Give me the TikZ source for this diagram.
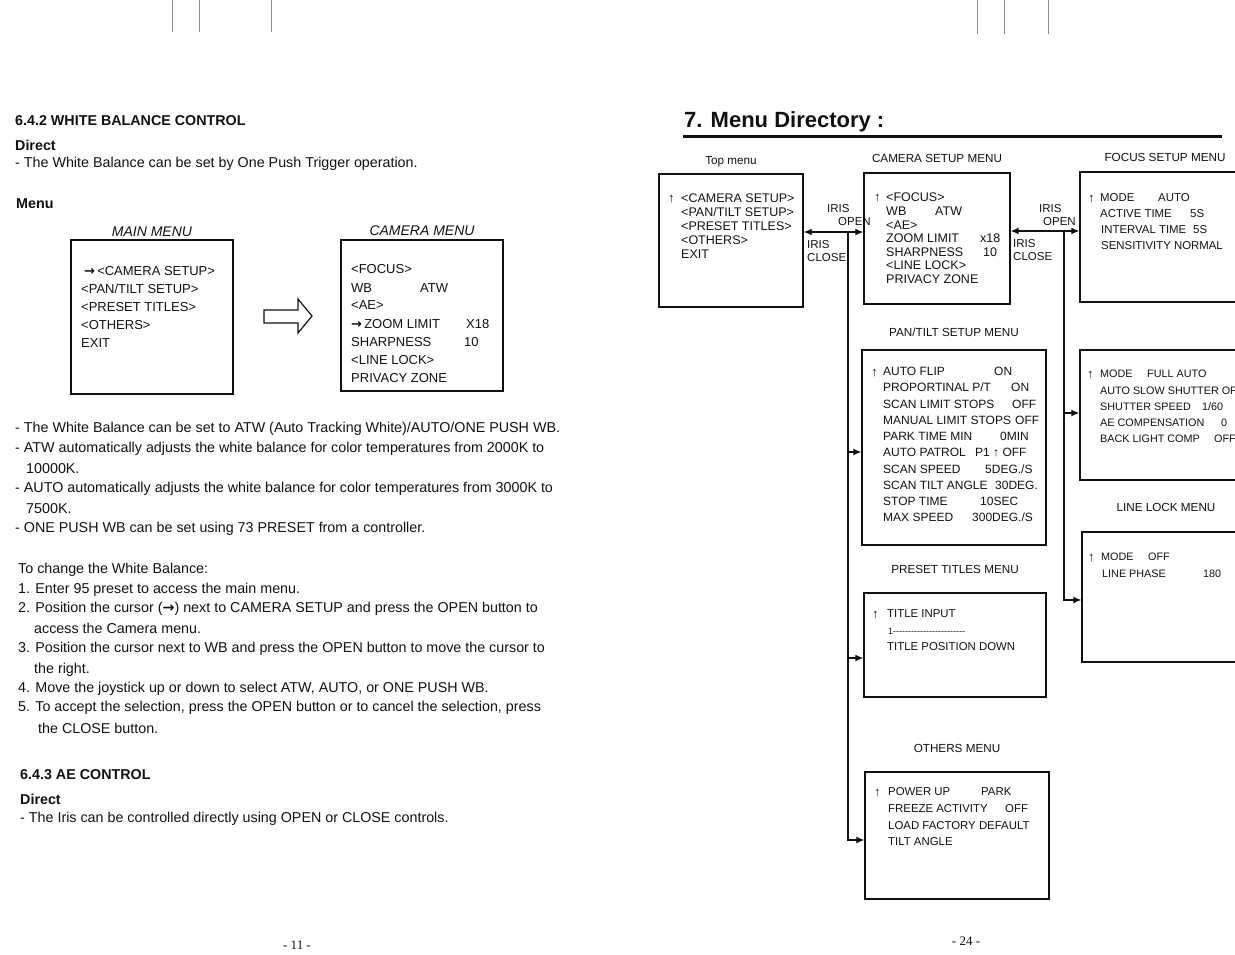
\documentclass[tikz,border=0pt]{standalone}
\usepackage{fontspec}
\setmainfont{Liberation Sans}
\newfontfamily\pagenumfont{Liberation Serif}
\newfontfamily\arrowfont{DejaVu Sans}
\usetikzlibrary{arrows.meta,positioning,fit}
\usepackage{xcolor}
\definecolor{ink}{HTML}{111111}
\definecolor{scan}{HTML}{8A8A8A}
\newcommand{\bodysize}{\fontsize{14.3}{17}\selectfont}
\newcommand{\dashrow}{\foreach \i in {1,...,24}{{-}}}
\newcommand{\cursorarrow}{{\arrowfont\bfseries →}}
\tikzset{
  >={Latex[length=8pt,width=7pt]},
  every node/.style={inner sep=0pt,text=ink},
  body/.style={font=\bodysize,anchor=base west},
  head/.style={font=\bodysize\bfseries,anchor=base west},
  oldbox/.style={draw=ink,line width=1.4pt,inner sep=0pt},
  oldtitle/.style={font=\fontsize{14}{16}\selectfont\itshape,text depth=0pt},
  oldtxt/.style={font=\fontsize{13}{15}\selectfont,anchor=base west},
  menubox/.style={draw=ink,line width=1.4pt,inner sep=0pt},
  menutitle/.style={font=\fontsize{11.7}{14}\selectfont,text depth=0pt},
  item/.style={font=\fontsize{12.5}{14}\selectfont,anchor=base west},
  ptitem/.style={font=\fontsize{12}{14}\selectfont,anchor=base west},
  smallitem/.style={font=\fontsize{11.4}{13}\selectfont,anchor=base west},
  tinyitem/.style={font=\fontsize{10.8}{12}\selectfont,anchor=base west},
  cursor/.style={font=\fontsize{13}{14}\selectfont,anchor=base west},
  iris/.style={font=\fontsize{11.5}{13}\selectfont,align=left,anchor=north west},
  link/.style={<->,line width=1.2pt,draw=ink},
  branch/.style={->,line width=1.2pt,draw=ink},
  scanmark/.style={draw=scan,line width=0.7pt},
  pagenum/.style={font=\pagenumfont\fontsize{13}{15}\selectfont,anchor=base},
}

\begin{document}
\begin{tikzpicture}[x=1pt,y=-1pt]
\useasboundingbox (0,0) rectangle (1235,954);

% scanner marks along the top edge
\foreach \x/\h in {172/32,199/32,271/32,977/34,1004/34,1048/34}
  \draw[scanmark] (\x,0) -- (\x,\h);

% left page: white balance
\node[head] (wbhead) at (15,125) {6.4.2 WHITE BALANCE CONTROL};
\node[head] (wbdirect) at (15,150) {Direct};
\node[body] (wbpush) at (15,167) {- The White Balance can be set by One Push Trigger operation.};
\node[head] (wbmenu) at (16,208) {Menu};

\node[oldbox,fit={(71,240) (233,394)}] (mainmenu) {};
\node[oldtitle,above=3pt of mainmenu] (maintitle) {MAIN MENU};
\node[oldtxt] (mm1) at (84,275) {\cursorarrow\,<CAMERA SETUP>};
\foreach \y/\t in {293/{<PAN/TILT SETUP>},311/{<PRESET TITLES>},329/{<OTHERS>},347/{EXIT}}
  \node[oldtxt] (mm\y) at (81,\y) {\t};

\node[oldbox,fit={(341,240) (503,391)}] (cammenu) {};
\node[oldtitle,above=4pt of cammenu] (camtitle) {CAMERA MENU};
\foreach \y/\t in {273/{<FOCUS>},292/{WB},309/{<AE>},346/{SHARPNESS},364/{<LINE LOCK>},382/{PRIVACY ZONE}}
  \node[oldtxt] (cm\y) at (351,\y) {\t};
\node[oldtxt] (cm328) at (351,328) {\cursorarrow\,ZOOM LIMIT};
\node[oldtxt] (cmatw) at (420,292) {ATW};
\node[oldtxt] (cmx18) at (466,328) {X18};
\node[oldtxt] (cm10) at (464,346) {10};

% hollow arrow between the menus
\draw[line width=1.2pt,draw=ink] (264,310) -- (298,310) -- (298,299) -- (312,316)
  -- (298,333) -- (298,323) -- (264,323) -- cycle;

\foreach \x/\y/\t in {
  15/432/{- The White Balance can be set to ATW (Auto Tracking White)/AUTO/ONE PUSH WB.},
  15/452/{- ATW automatically adjusts the white balance for color temperatures from 2000K to},
  26/473/{10000K.},
  15/492/{- AUTO automatically adjusts the white balance for color temperatures from 3000K to},
  26/513/{7500K.},
  15/532/{- ONE PUSH WB can be set using 73 PRESET from a controller.},
  18/573/{To change the White Balance:},
  18/593/{1. Enter 95 preset to access the main menu.},
  18/612/{2. Position the cursor (\cursorarrow) next to CAMERA SETUP and press the OPEN button to},
  34/633/{access the Camera menu.},
  18/652/{3. Position the cursor next to WB and press the OPEN button to move the cursor to},
  34/673/{the right.},
  18/692/{4. Move the joystick up or down to select ATW, AUTO, or ONE PUSH WB.},
  18/711/{5. To accept the selection, press the OPEN button or to cancel the selection, press},
  38/733/{the CLOSE button.}}
  \node[body] (txt\y) at (\x,\y) {\t};

% left page: AE control
\node[head] (aehead) at (20,779) {6.4.3 AE CONTROL};
\node[head] (aedirect) at (20,804) {Direct};
\node[body] (aeiris) at (20,822) {- The Iris can be controlled directly using OPEN or CLOSE controls.};
\node[pagenum] (pg11) at (297,949) {- 11 -};

% right page: menu directory
\node[font=\fontsize{22}{26}\selectfont\bfseries,anchor=base west] (dirhead) at (684,127) {7. Menu Directory :};
\draw[line width=3pt,draw=ink] (683,136) -- (1222,136);

\node[menubox,fit={(659,174) (803,307)}] (top) {};
\node[menutitle,above=9pt of top] (toptitle) {Top menu};
\node[cursor] (topcur) at (668,202) {↑};
\foreach \y/\t in {202/{<CAMERA SETUP>},216/{<PAN/TILT SETUP>},230/{<PRESET TITLES>},244/{<OTHERS>},258/{EXIT}}
  \node[item] (top\y) at (681,\y) {\t};

\node[menubox,fit={(864,173) (1010,304)}] (camset) {};
\node[menutitle,above=10pt of camset] (camsettitle) {CAMERA SETUP MENU};
\node[cursor] (camcur) at (874,201) {↑};
\foreach \y/\t in {201/{<FOCUS>},215/{WB},229/{<AE>},242/{ZOOM LIMIT},256/{SHARPNESS},269/{<LINE LOCK>},283/{PRIVACY ZONE}}
  \node[item] (cam\y) at (886,\y) {\t};
\node[item] (camatw) at (935,215) {ATW};
\node[item] (camx18) at (980,242) {x18};
\node[item] (cam10) at (983,256) {10};

\node[menubox,fit={(1080,172) (1250,302)}] (focus) {};
\node[menutitle,above=10pt of focus] (focustitle) {FOCUS SETUP MENU};
\node[cursor] (focuscur) at (1088,202) {↑};
\node[smallitem] (foc1) at (1100,201) {MODE};
\node[smallitem] (foc1v) at (1158,201) {AUTO};
\node[smallitem] (foc2) at (1100,217) {ACTIVE TIME};
\node[smallitem] (foc2v) at (1190,217) {5S};
\node[smallitem] (foc3) at (1101,233) {INTERVAL TIME};
\node[smallitem] (foc3v) at (1193,233) {5S};
\node[smallitem] (foc4) at (1101,249) {SENSITIVITY NORMAL};

\node[menubox,fit={(862,350) (1046,545)}] (pantilt) {};
\node[menutitle,above=13pt of pantilt] (pttitle) {PAN/TILT SETUP MENU};
\node[cursor] (ptcur) at (871,376) {↑};
\foreach \y/\a/\x/\b in {375/{AUTO FLIP}/994/{ON},391/{PROPORTINAL P/T}/1011/{ON},
    408/{SCAN LIMIT STOPS}/1012/{OFF},424/{MANUAL LIMIT STOPS}/1015/{OFF},
    440/{PARK TIME MIN}/1000/{0MIN},456/{AUTO PATROL}/975/{P1 {\fontsize{12}{12}\selectfont↑} OFF},
    473/{SCAN SPEED}/985/{5DEG./S},489/{SCAN TILT ANGLE}/995/{30DEG.},
    505/{STOP TIME}/980/{10SEC},521/{MAX SPEED}/972/{300DEG./S}} {
  \node[ptitem] (pt\y) at (883,\y) {\a};
  \node[ptitem] (ptv\y) at (\x,\y) {\b};
}

\node[menubox,fit={(864,593) (1046,697)}] (preset) {};
\node[menutitle,above=19pt of preset] (presettitle) {PRESET TITLES MENU};
\node[cursor] (prcur) at (872,618) {↑};
\node[smallitem] (pr1) at (887,617) {TITLE INPUT};
\node[font=\fontsize{9}{10}\selectfont,anchor=base west] (pr2) at (888,634) {1\dashrow};
\node[smallitem] (pr3) at (887,650) {TITLE POSITION DOWN};

\node[menubox,fit={(865,772) (1049,899)}] (others) {};
\node[menutitle,above=19pt of others] (otherstitle) {OTHERS MENU};
\node[cursor] (otcur) at (874,796) {↑};
\node[smallitem] (ot1) at (888,795) {POWER UP};
\node[smallitem] (ot1v) at (981,795) {PARK};
\node[smallitem] (ot2) at (888,812) {FREEZE ACTIVITY};
\node[smallitem] (ot2v) at (1005,812) {OFF};
\node[smallitem] (ot3) at (888,829) {LOAD FACTORY DEFAULT};
\node[smallitem] (ot4) at (888,845) {TILT ANGLE};

\node[menubox,fit={(1080,350) (1250,480)}] (ae) {};
\node[cursor] (aecur) at (1087,378) {↑};
\node[tinyitem] (ae1) at (1100,377) {MODE};
\node[tinyitem] (ae1v) at (1147,377) {FULL AUTO};
\node[tinyitem] (ae2) at (1100,394) {AUTO SLOW SHUTTER OFF};
\node[tinyitem] (ae3) at (1100,410) {SHUTTER SPEED};
\node[tinyitem] (ae3v) at (1202,410) {1/60};
\node[tinyitem] (ae4) at (1100,426) {AE COMPENSATION};
\node[tinyitem] (ae4v) at (1221,426) {0};
\node[tinyitem] (ae5) at (1100,442) {BACK LIGHT COMP};
\node[tinyitem] (ae5v) at (1214,442) {OFF};

\node[menubox,fit={(1082,532) (1250,662)}] (linelock) {};
\node[menutitle,above=20pt of linelock] (lltitle) {LINE LOCK MENU};
\node[cursor] (llcur) at (1088,561) {↑};
\node[tinyitem] (ll1) at (1101,560) {MODE};
\node[tinyitem] (ll1v) at (1148,560) {OFF};
\node[tinyitem] (ll2) at (1102,577) {LINE PHASE};
\node[tinyitem] (ll2v) at (1203,577) {180};

% iris links and branches
\coordinate (jA) at (848,232);
\coordinate (jB) at (1064,231);
\draw[link] (top.east |- jA) -- (camset.west |- jA);
\draw[link] (camset.east |- jB) -- (focus.west |- jB);
\node[iris] (openA) at (827,204) {IRIS\\\hspace*{11pt}OPEN};
\node[iris] (closeA) at (807,240) {IRIS\\CLOSE};
\node[iris] (openB) at (1039,204) {IRIS\\\hspace*{4pt}OPEN};
\node[iris] (closeB) at (1013,239) {IRIS\\CLOSE};

\coordinate (ptin) at ([yshift=-4.5pt]pantilt.west);
\coordinate (prin) at ([yshift=-13pt]preset.west);
\coordinate (otin) at ([yshift=-4.5pt]others.west);
\coordinate (aein) at ([yshift=2pt]ae.west);
\coordinate (llin) at ([yshift=-3pt]linelock.west);
\draw[branch] (jA) |- (otin);
\draw[branch] (jA |- ptin) -- (ptin);
\draw[branch] (jA |- prin) -- (prin);
\draw[branch] (jB) |- (llin);
\draw[branch] (jB |- aein) -- (aein);

\node[pagenum] (pg24) at (966,945) {- 24 -};
\end{tikzpicture}
\end{document}
